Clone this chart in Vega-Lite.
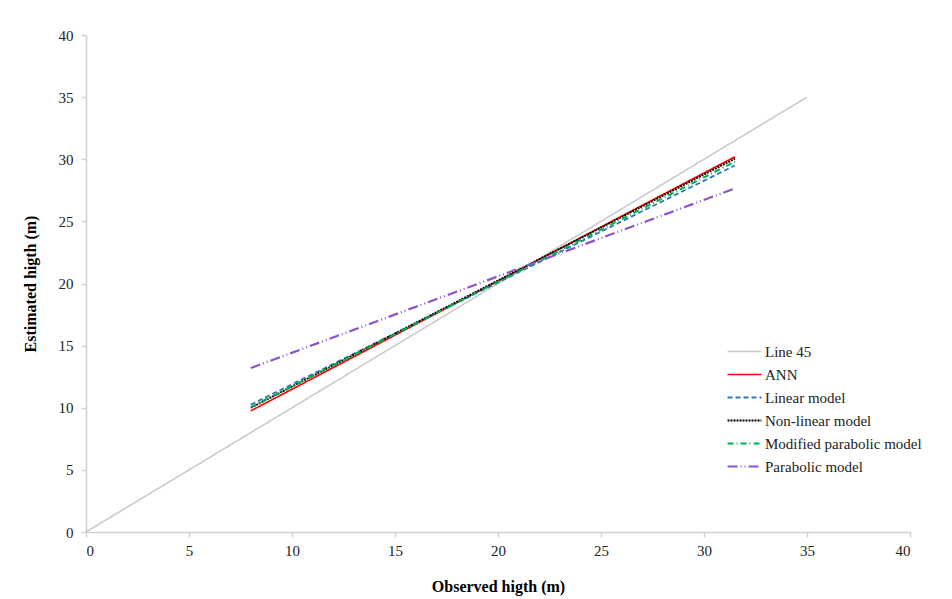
{
  "$schema": "https://vega.github.io/schema/vega-lite/v6.json",
  "width": 824,
  "height": 497,
  "autosize": {"type": "none"},
  "padding": {"left": 86, "top": 35, "right": 42, "bottom": 67},
  "background": "white",
  "config": {
    "view": {"stroke": null},
    "font": "Liberation Serif",
    "axis": {
      "grid": false,
      "domainColor": "#d0d0d0",
      "domainWidth": 1.5,
      "tickColor": "#d0d0d0",
      "tickWidth": 1.5,
      "tickSize": 5,
      "labelFont": "Liberation Serif",
      "labelFontSize": 15,
      "labelColor": "#222222",
      "titleFont": "Liberation Serif",
      "titleFontSize": 16,
      "titleFontWeight": "bold",
      "titleColor": "#000000"
    }
  },
  "data": {
    "values": [
      {"series": "Line 45", "x": 0, "y": 0},
      {"series": "Line 45", "x": 35, "y": 35},
      {"series": "ANN", "x": 8, "y": 9.75},
      {"series": "ANN", "x": 31.5, "y": 30.2},
      {"series": "Linear model", "x": 8, "y": 10.25},
      {"series": "Linear model", "x": 31.5, "y": 29.5},
      {"series": "Non-linear model", "x": 8, "y": 10.0},
      {"series": "Non-linear model", "x": 31.5, "y": 30.05},
      {"series": "Modified parabolic model", "x": 8, "y": 10.05},
      {"series": "Modified parabolic model", "x": 31.5, "y": 29.8},
      {"series": "Parabolic model", "x": 8, "y": 13.2},
      {"series": "Parabolic model", "x": 31.5, "y": 27.65}
    ]
  },
  "mark": {"type": "line", "clip": false},
  "encoding": {
    "x": {
      "field": "x",
      "type": "quantitative",
      "scale": {"domain": [0, 40], "nice": false, "zero": false},
      "axis": {"values": [0, 5, 10, 15, 20, 25, 30, 35, 40], "title": "Observed higth (m)", "titlePadding": 20, "labelPadding": 6}
    },
    "y": {
      "field": "y",
      "type": "quantitative",
      "scale": {"domain": [0, 40], "nice": false, "zero": false},
      "axis": {"values": [0, 5, 10, 15, 20, 25, 30, 35, 40], "title": "Estimated higth (m)", "titlePadding": 20, "labelPadding": 8}
    },
    "color": {
      "field": "series",
      "type": "nominal",
      "sort": ["Line 45", "ANN", "Linear model", "Non-linear model", "Modified parabolic model", "Parabolic model"],
      "scale": {
        "domain": ["Line 45", "ANN", "Linear model", "Non-linear model", "Modified parabolic model", "Parabolic model"],
        "range": ["#c8c8c8", "#ff0000", "#2e75b6", "#000000", "#00b050", "#8a55c8"]
      },
      "legend": {
        "title": null,
        "orient": "none",
        "legendX": 640,
        "legendY": 305,
        "symbolType": "stroke",
        "symbolSize": 1150,
        "symbolStrokeWidth": 2,
        "clipHeight": 23,
        "rowPadding": 0,
        "labelFont": "Liberation Serif",
        "labelFontSize": 15,
        "labelColor": "#222222",
        "labelOffset": 2
      }
    },
    "strokeDash": {
      "field": "series",
      "type": "nominal",
      "sort": ["Line 45", "ANN", "Linear model", "Non-linear model", "Modified parabolic model", "Parabolic model"],
      "scale": {
        "domain": ["Line 45", "ANN", "Linear model", "Non-linear model", "Modified parabolic model", "Parabolic model"],
        "range": [[1, 0], [1, 0], [5, 3], [2, 1], [6, 3, 1, 3], [10, 3, 1, 3, 1, 3]]
      },
      "legend": null
    },
    "strokeWidth": {
      "field": "series",
      "type": "nominal",
      "scale": {
        "domain": ["Line 45", "ANN", "Linear model", "Non-linear model", "Modified parabolic model", "Parabolic model"],
        "range": [1.5, 2.2, 1.5, 1.5, 1.5, 1.5]
      },
      "legend": null
    }
  }
}
